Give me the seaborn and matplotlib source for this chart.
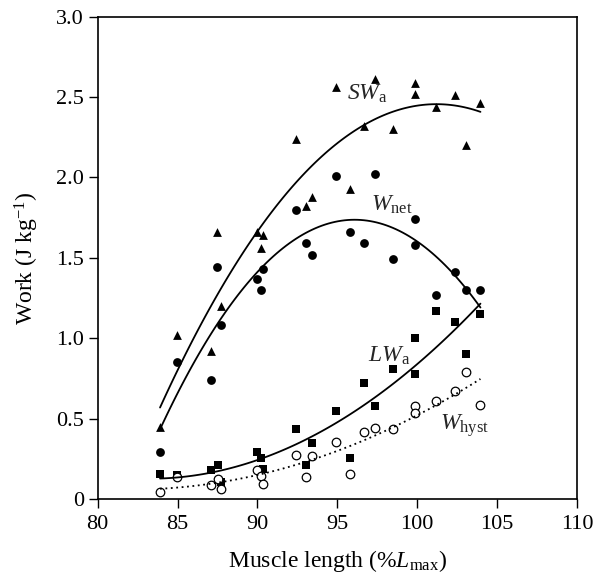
import numpy as np
import pandas as pd
import matplotlib
matplotlib.use('Agg')
import matplotlib.pyplot as plt
import seaborn as sns

# SWa (filled triangles)
sw_x = [83.9, 84.98, 87.08, 87.44, 87.7, 89.94, 90.23, 90.35, 92.44, 93.02,
        93.44, 94.9, 95.8, 96.69, 97.37, 98.46, 99.87, 99.87, 101.2, 102.35,
        103.04, 103.96]
sw_y = [0.45, 1.02, 0.92, 1.66, 1.20, 1.66, 1.56, 1.64, 2.24, 1.82,
        1.88, 2.56, 1.93, 2.32, 2.61, 2.30, 2.59, 2.52, 2.44, 2.51,
        2.20, 2.46]

# Wnet (filled circles)
net_x = [83.9, 84.98, 87.08, 87.44, 87.7, 89.94, 90.23, 90.35, 92.44, 93.04,
         93.44, 94.9, 95.8, 96.69, 97.37, 98.46, 99.87, 99.87, 101.2, 102.35,
         103.04, 103.96]
net_y = [0.29, 0.855, 0.74, 1.44, 1.08, 1.37, 1.30, 1.43, 1.80, 1.59,
         1.52, 2.01, 1.66, 1.59, 2.02, 1.49, 1.74, 1.58, 1.27, 1.41,
         1.30, 1.30]

# LWa (filled squares)
lw_x = [83.9, 84.98, 87.08, 87.5, 87.7, 89.98, 90.23, 90.35, 92.44, 93.04,
        93.44, 94.9, 95.8, 96.64, 97.37, 98.46, 99.87, 99.87, 101.2, 102.35,
        103.04, 103.96]
lw_y = [0.158, 0.151, 0.18, 0.21, 0.105, 0.29, 0.255, 0.19, 0.435, 0.21,
        0.35, 0.55, 0.255, 0.72, 0.58, 0.81, 1.00, 0.78, 1.17, 1.10,
        0.90, 1.15]

# Whyst (open circles)
hy_x = [83.9, 84.98, 87.08, 87.5, 87.7, 89.98, 90.23, 90.35, 92.44, 93.04,
        93.44, 94.9, 95.8, 96.69, 97.37, 98.46, 99.87, 99.87, 101.2, 102.35,
        103.04, 103.96]
hy_y = [0.047, 0.14, 0.085, 0.125, 0.062, 0.178, 0.145, 0.095, 0.276, 0.139,
        0.265, 0.355, 0.155, 0.415, 0.44, 0.435, 0.58, 0.535, 0.61, 0.67,
        0.79, 0.585]

x_ticks = [80, 85, 90, 95, 100, 105, 110]
y_ticks = [0, 0.5, 1.0, 1.5, 2.0, 2.5, 3.0]
y_ticklabels = ['0', '0.5', '1.0', '1.5', '2.0', '2.5', '3.0']

sns.set_style('ticks')
plt.rcParams['font.family'] = 'serif'
plt.rcParams['font.serif'] = ['Liberation Serif']
plt.rcParams['mathtext.fontset'] = 'custom'
plt.rcParams['mathtext.rm'] = 'Liberation Serif'
plt.rcParams['mathtext.it'] = 'Liberation Serif:italic'

fig = plt.figure(figsize=(5.96, 5.73), dpi=100)
ax = fig.add_axes([0.164, 0.129, 0.804, 0.842])

line_kw = dict(color='black', lw=1.3)
sns.regplot(x=sw_x, y=sw_y, order=2, ci=None, ax=ax, marker='^',
            scatter_kws=dict(color='black', s=40, linewidths=0, alpha=1),
            line_kws=line_kw)
sns.regplot(x=net_x, y=net_y, order=2, ci=None, ax=ax, marker='o',
            scatter_kws=dict(color='black', s=40, linewidths=0, alpha=1),
            line_kws=line_kw)
sns.regplot(x=lw_x, y=lw_y, order=2, ci=None, ax=ax, marker='s',
            scatter_kws=dict(color='black', s=32, linewidths=0, alpha=1),
            line_kws=line_kw)
sns.regplot(x=hy_x, y=hy_y, order=2, ci=None, ax=ax, marker='o',
            scatter_kws=dict(facecolors='white', edgecolors='black', s=38,
                             linewidths=0.9, alpha=1),
            line_kws=dict(color='black', lw=1.3, ls=(0, (1, 2))))

ax.text(95.6, 2.52, r'$SW_{\rm a}$', fontsize=17, va='center')
ax.text(97.1, 1.83, r'$W_{\rm net}$', fontsize=17, va='center')
ax.text(96.9, 0.89, r'$LW_{\rm a}$', fontsize=17, va='center')
ax.text(101.4, 0.46, r'$W_{\rm hyst}$', fontsize=17, va='center')

ax.set_xlim(80, 110)
ax.set_ylim(0, 3.0)
ax.set_xticks(x_ticks)
ax.set_yticks(y_ticks)
ax.set_yticklabels(y_ticklabels)
ax.tick_params(labelsize=16, length=6.5, width=1, color='black', labelcolor='black')
ax.tick_params(axis='x', pad=5)
for sp in ax.spines.values():
    sp.set_color('black')
    sp.set_linewidth(1.2)

ax.set_xlabel(r'Muscle length (%$L_{\rm max}$)', fontsize=17, color='black',
              labelpad=10)
ax.set_ylabel(r'Work (J kg$^{-1}$)', fontsize=17, color='black', labelpad=11)

fig.savefig('out.png', dpi=100)
